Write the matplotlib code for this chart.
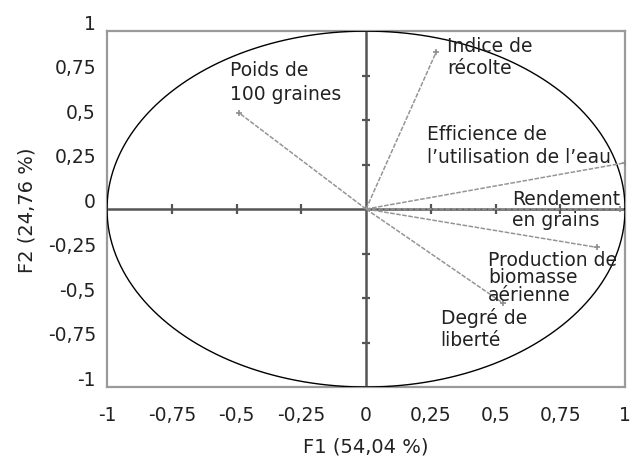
import matplotlib.pyplot as plt
import matplotlib.transforms as mtransforms
import numpy as np

plt.rcParams['font.family'] = ['DejaVu Sans']

# correlation circle data (F1, F2 loadings)
variables = ['Poids de\n100 graines', 'Indice de\nrécolte',
             'Efficience de\nl\u2019utilisation de l\u2019eau', 'Rendement\nen grains',
             'Production de\nbiomasse\naérienne', 'Degré de\nliberté']
f1 = [-0.49, 0.27, 1.0, 0.98, 0.89, 0.53]
f2 = [0.54, 0.88, 0.26, 0.0, -0.215, -0.53]
# label anchor (top-left) for each variable
label_x = [-0.525, 0.313, 0.234, 0.564, 0.471, 0.288]
label_y = [0.835, 0.975, 0.48, 0.115, -0.228, -0.553]
label_spacing = [1.3, 1.25, 1.3, 1.15, 0.9, 1.2]

ticks = [-1, -0.75, -0.5, -0.25, 0, 0.25, 0.5, 0.75, 1]
tick_labels = ['-1', '-0,75', '-0,5', '-0,25', '0', '0,25', '0,5', '0,75', '1']

fig = plt.figure(figsize=(6.31, 4.64), dpi=100)
ax = fig.add_axes([0.1696, 0.1638, 0.821, 0.767])

ax.set_xlim(-1, 1)
ax.set_ylim(-1, 1)

# unit circle
theta = np.linspace(0, 2 * np.pi, 400)
ax.plot(np.cos(theta), np.sin(theta), color='black', lw=1.0, zorder=3)

# central axes
ax.axhline(0, color='#555555', lw=1.8, zorder=2)
ax.axvline(0, color='#555555', lw=1.8, zorder=2)
inner = [t for t in ticks if abs(t) not in (0, 1)]
ax.plot(inner, [0] * len(inner), linestyle='none', marker='|', markersize=7,
        markeredgewidth=1.6, color='#555555', zorder=2)
ax.plot([0] * len(inner), inner, linestyle='none', marker='_', markersize=6,
        markeredgewidth=1.6, color='#555555', zorder=2)

# vectors
for x, y in zip(f1, f2):
    ax.plot([0, x], [0, y], color='#959595', lw=1.1, linestyle=(0, (3, 1)), zorder=4)
    ax.plot(x, y, marker='+', markersize=4, markeredgewidth=1.2, color='#8c8c8c', zorder=4)

for name, x, y, sp in zip(variables, label_x, label_y, label_spacing):
    ax.text(x, y, name, ha='left', va='top', fontsize=13.5, color='#222222',
            linespacing=sp, zorder=5)

ax.set_xticks(ticks)
ax.set_xticklabels(tick_labels)
ax.set_yticks(ticks)
ax.set_yticklabels(tick_labels)
ax.tick_params(length=0, labelsize=13.5, colors='#222222')
ax.tick_params(axis='x', pad=13)
ax.tick_params(axis='y', pad=8)

# y tick labels sit slightly above their ticks in the original
offset = mtransforms.ScaledTranslation(0, 7 / 72, fig.dpi_scale_trans)
for lab in ax.get_yticklabels():
    lab.set_transform(lab.get_transform() + offset)

for s in ax.spines.values():
    s.set_color('#9a9a9a')
    s.set_linewidth(1.6)

ax.set_xlabel('F1 (54,04 %)', fontsize=14, color='#222222', labelpad=9)
ax.set_ylabel('F2 (24,76 %)', fontsize=14, color='#222222', labelpad=8)

fig.savefig('out.png', dpi=100)
